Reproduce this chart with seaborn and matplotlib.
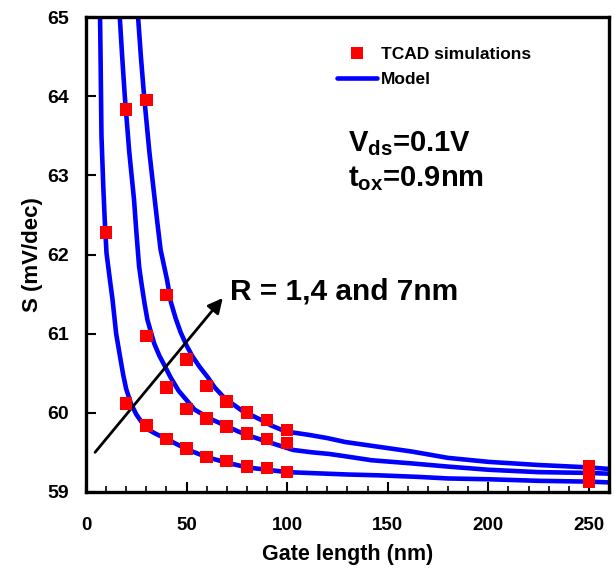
import numpy as np
import pandas as pd
import matplotlib
matplotlib.use("Agg")
import matplotlib.pyplot as plt
import seaborn as sns
from matplotlib.lines import Line2D
from matplotlib.ticker import MultipleLocator

# ---------------- data ----------------
radius_labels = ["R=1nm", "R=4nm", "R=7nm"]

# TCAD simulation points
tcad_x_r1 = [10, 20, 30, 40, 50, 60, 70, 80, 90, 100, 250]
tcad_y_r1 = [62.28, 60.12, 59.84, 59.67, 59.55, 59.44, 59.39, 59.32, 59.30, 59.25, 59.13]
tcad_x_r4 = [20, 30, 40, 50, 60, 70, 80, 90, 100, 250]
tcad_y_r4 = [63.83, 60.97, 60.32, 60.05, 59.93, 59.83, 59.74, 59.67, 59.62, 59.24]
tcad_x_r7 = [30, 40, 50, 60, 70, 80, 90, 100, 250]
tcad_y_r7 = [63.95, 61.49, 60.67, 60.34, 60.14, 60.00, 59.91, 59.78, 59.32]

# Model curves
model_x_r1 = [6.9, 7.3, 7.7, 8.6, 9.3, 10.2, 11.9, 13.2, 15.0, 17.0, 18.5, 20.0, 22.3,
              25.0, 27.2, 30, 35, 40, 50, 60, 70, 80, 90, 100, 110, 120, 130, 145,
              165, 180, 200, 225, 250, 260]
model_y_r1 = [65.2, 64.4, 63.5, 62.86, 62.45, 62.02, 61.68, 61.43, 61.0, 60.7, 60.48,
              60.3, 60.12, 59.98, 59.9, 59.8, 59.73, 59.67, 59.54, 59.44, 59.37, 59.31,
              59.28, 59.25, 59.24, 59.23, 59.22, 59.21, 59.19, 59.17, 59.16, 59.14,
              59.13, 59.12]
model_x_r4 = [16.6, 16.8, 18.0, 19.3, 21.5, 23.9, 25.0, 26.4, 27.5, 29.0, 30.5, 32.5,
              34.0, 36.5, 39.0, 42.0, 46.0, 50.0, 54.0, 58, 63, 70, 76, 80, 89.4, 99.3,
              103, 112.5, 120.8, 129, 142, 162, 180, 200, 225, 250, 260]
model_y_r4 = [65.2, 65.0, 64.5, 64.0, 63.3, 62.69, 62.3, 61.85, 61.65, 61.4, 61.18,
              61.0, 60.87, 60.72, 60.6, 60.45, 60.28, 60.16, 60.04, 59.98, 59.91,
              59.83, 59.76, 59.72, 59.64, 59.56, 59.53, 59.50, 59.48, 59.45, 59.40,
              59.36, 59.32, 59.28, 59.25, 59.24, 59.23]
model_x_r7 = [25.7, 25.9, 27.3, 28.9, 31.5, 34.2, 35.5, 37.1, 40.3, 42.2, 44.5, 47.0,
              50.0, 53.0, 56.5, 60.5, 64, 68, 73, 77.9, 83, 87.8, 92, 97.7, 103, 111,
              120, 129, 145.5, 162, 180, 200, 225, 250, 260]
model_y_r7 = [65.2, 65.0, 64.5, 64.0, 63.3, 62.69, 62.4, 62.06, 61.68, 61.4, 61.2,
              61.02, 60.85, 60.71, 60.58, 60.45, 60.32, 60.21, 60.11, 60.02, 59.96,
              59.90, 59.84, 59.78, 59.75, 59.72, 59.68, 59.63, 59.57, 59.51, 59.43,
              59.38, 59.34, 59.31, 59.29]

x_ticks = [0, 50, 100, 150, 200, 250]
y_ticks = [59, 60, 61, 62, 63, 64, 65]

# ---------------- build tables ----------------
tcad = pd.concat([
    pd.DataFrame({"L": tcad_x_r1, "S": tcad_y_r1, "R": radius_labels[0]}),
    pd.DataFrame({"L": tcad_x_r4, "S": tcad_y_r4, "R": radius_labels[1]}),
    pd.DataFrame({"L": tcad_x_r7, "S": tcad_y_r7, "R": radius_labels[2]}),
], ignore_index=True)
model = pd.concat([
    pd.DataFrame({"L": model_x_r1, "S": model_y_r1, "R": radius_labels[0]}),
    pd.DataFrame({"L": model_x_r4, "S": model_y_r4, "R": radius_labels[1]}),
    pd.DataFrame({"L": model_x_r7, "S": model_y_r7, "R": radius_labels[2]}),
], ignore_index=True)

# ---------------- style ----------------
sns.set_style("white")
plt.rcParams["font.family"] = ["Liberation Sans", "DejaVu Sans"]
plt.rcParams["font.weight"] = "bold"
plt.rcParams["text.color"] = "black"
plt.rcParams["axes.labelcolor"] = "black"
plt.rcParams["xtick.color"] = "black"
plt.rcParams["ytick.color"] = "black"
plt.rcParams["mathtext.fontset"] = "custom"
plt.rcParams["mathtext.rm"] = "Liberation Sans:bold"
plt.rcParams["mathtext.it"] = "Liberation Sans:bold"
plt.rcParams["mathtext.bf"] = "Liberation Sans:bold"

fig = plt.figure(figsize=(6.15, 5.70), dpi=100)
ax = fig.add_axes([0.1398, 0.137, 0.8504, 0.833])

blue = "#0000ff"
red = "#ff0000"

sns.lineplot(data=model, x="L", y="S", hue="R", palette=[blue] * 3,
             linewidth=3.3, legend=False, ax=ax, estimator=None, sort=True)
sns.scatterplot(data=tcad, x="L", y="S", color=red, marker="s", s=82,
                edgecolor="none", linewidth=0, legend=False, ax=ax, zorder=5)

ax.set_xlim(0, 260)
ax.set_ylim(59, 65)
ax.set_xticks(x_ticks)
ax.set_yticks(y_ticks)
ax.xaxis.set_minor_locator(MultipleLocator(10))

for sp in ax.spines.values():
    sp.set_color("black")
    sp.set_linewidth(2.4)

ax.tick_params(axis="x", which="major", direction="in", length=7, width=1.5,
               pad=18, labelsize=13.5, bottom=True, top=False, colors="black")
ax.tick_params(axis="x", which="minor", direction="in", length=4, width=1.2,
               bottom=True, top=False, colors="black")
ax.tick_params(axis="y", which="major", direction="in", length=7, width=1.5,
               pad=12.5, labelsize=14, left=True, right=False, colors="black")
for lbl in ax.get_xticklabels() + ax.get_yticklabels():
    lbl.set_fontweight("bold")

ax.set_xlabel("Gate length (nm)", fontsize=15.5, fontweight="bold", labelpad=7,
              color="black")
ax.set_ylabel("S (mV/dec)", fontsize=16, fontweight="bold", labelpad=3,
              color="black")

# legend
handles = [
    Line2D([], [], linestyle="none", marker="s", markersize=8.5, color=red,
           markeredgewidth=0),
    Line2D([], [], color=blue, linewidth=3.3),
]
leg = ax.legend(handles, ["TCAD simulations", "Model"], loc="upper left",
                bbox_to_anchor=(0.48, 0.937), frameon=False, borderpad=0,
                borderaxespad=0, handlelength=2.3, handletextpad=0.23,
                labelspacing=0.55,
                prop={"family": "Liberation Sans", "weight": "bold", "size": 12.5})
for t in leg.get_texts():
    t.set_color("black")

# annotations
ax.text(130.5, 63.30, r"V$_{\mathrm{ds}}$=0.1V", fontsize=21, fontweight="bold",
        ha="left", va="baseline", color="black")
ax.text(130.5, 62.86, r"t$_{\mathrm{ox}}$=0.9nm", fontsize=21, fontweight="bold",
        ha="left", va="baseline", color="black")
ax.text(71.5, 61.43, "R = 1,4 and 7nm", fontsize=21.5, fontweight="bold",
        ha="left", va="baseline", color="black")
ax.annotate("", xy=(68, 61.45), xytext=(4.5, 59.50),
            arrowprops=dict(arrowstyle="-|>", color="black", lw=2.0,
                            mutation_scale=22, shrinkA=0, shrinkB=0))

fig.savefig("out.png", dpi=100)
